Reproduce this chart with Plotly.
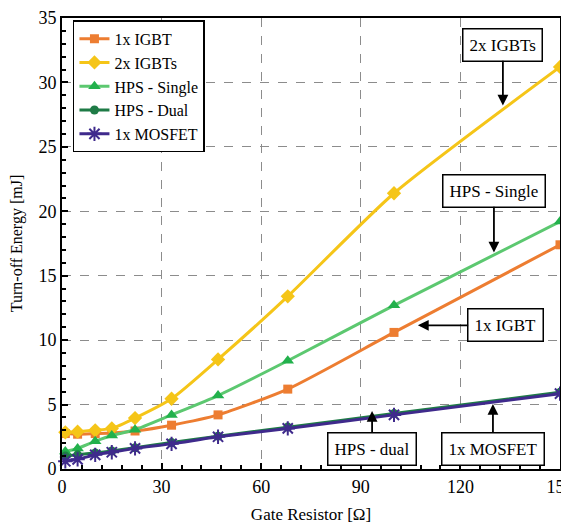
import plotly.graph_objects as go

resistance = [1, 4.7, 10, 15, 22, 33, 47, 68, 100, 150]
igbt_1x = [2.75, 2.7, 2.75, 2.8, 2.95, 3.4, 4.2, 6.2, 10.6, 17.4]
igbt_2x = [2.85, 2.9, 3.0, 3.15, 3.95, 5.45, 8.5, 13.4, 21.4, 31.2]
hps_single = [1.35, 1.6, 2.15, 2.6, 3.05, 4.2, 5.7, 8.4, 12.7, 19.2]
hps_dual = [1.0, 1.1, 1.25, 1.4, 1.65, 2.05, 2.55, 3.25, 4.3, 5.95]
mosfet = [0.6, 0.75, 1.1, 1.3, 1.6, 1.95, 2.5, 3.15, 4.2, 5.85]

series = [
    ("1x IGBT", igbt_1x, "#ED7D31", "#ED7D31", "square", 9),
    ("2x IGBTs", igbt_2x, "#F5C518", "#F5C518", "diamond", 11),
    ("HPS - Single", hps_single, "#5CC870", "#22B14C", "triangle-up", 11),
    ("HPS - Dual", hps_dual, "#1E7B46", "#1E7B46", "circle", 9),
    ("1x MOSFET", mosfet, "#3F2A8C", "#3F2A8C", "asterisk-open", 12),
]

fig = go.Figure()
for name, ys, lc, mc, sym, ms in series:
    marker = dict(symbol=sym, size=ms, color=mc)
    if sym.startswith("asterisk"):
        marker["line"] = dict(color=mc, width=2)
    fig.add_trace(go.Scatter(
        x=resistance, y=ys, name=name, mode="lines+markers",
        line=dict(color=lc, width=3, shape="spline", smoothing=0.6),
        marker=marker, cliponaxis=False,
    ))

font_family = "Liberation Serif, Times New Roman, serif"

def ann(text, x, y, ax, ay):
    return dict(x=x, y=y, xref="x", yref="y", text=text, showarrow=True,
                ax=ax, ay=ay, arrowhead=2, arrowsize=1.2, arrowwidth=1.8,
                arrowcolor="black", bordercolor="black", borderwidth=1.5,
                borderpad=6, bgcolor="white",
                font=dict(family=font_family, size=17, color="black"))

annotations = [
    ann("2x IGBTs", 132.8, 28.2, 0, -61),
    ann("HPS - Single", 130.1, 16.8, 0, -62),
    ann("1x IGBT", 107.2, 11.15, 88, 0),
    ann("HPS - dual", 93.4, 4.5, 0, 38),
    ann("1x MOSFET", 129.8, 5.05, 0, 45),
]

axis_common = dict(
    showline=True, linecolor="black", linewidth=2, mirror=True,
    ticks="inside", ticklen=6, tickcolor="black", tickwidth=1.5,
    showgrid=True, gridcolor="#8c8c8c", griddash="dash", gridwidth=1,
    zeroline=False, automargin=False,
    tickfont=dict(family=font_family, size=18, color="black"),
)

fig.update_layout(
    width=561, height=516,
    margin=dict(l=54, r=9, t=10, b=55),
    plot_bgcolor="white", paper_bgcolor="white",
    font=dict(family=font_family, color="black"),
    xaxis=dict(range=[0, 150], dtick=30, tick0=0, ticklabeloverflow="allow",
               minor=dict(dtick=6, ticks="inside", ticklen=4, tickcolor="black", showgrid=False),
               title=dict(text="Gate Resistor [Ω]", font=dict(family=font_family, size=17)),
               **axis_common),
    yaxis=dict(range=[0, 35], dtick=5, tick0=0,
               minor=dict(dtick=1, ticks="inside", ticklen=4, tickcolor="black", showgrid=False),
               title=dict(text="Turn-off Energy [mJ]", font=dict(family=font_family, size=16)),
               **axis_common),
    legend=dict(x=0.022, y=0.995, xanchor="left", yanchor="top",
                bordercolor="black", borderwidth=1.5, bgcolor="white",
                font=dict(family=font_family, size=16), tracegroupgap=0,
                itemwidth=30),
    annotations=annotations,
    showlegend=True,
)

fig.write_html("out.html")
